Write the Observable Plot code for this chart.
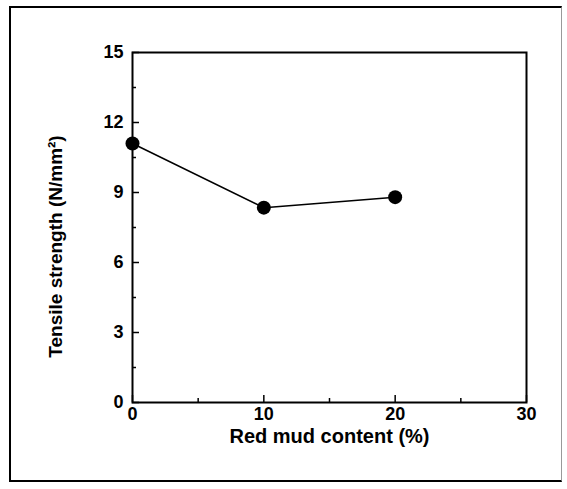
<!DOCTYPE html>
<html>
<head>
<meta charset="utf-8">
<script src="https://cdn.jsdelivr.net/npm/d3@7"></script>
<script src="https://cdn.jsdelivr.net/npm/@observablehq/plot@0.6"></script>
<style>
  html, body { margin: 0; padding: 0; background: #fff; }
  #wrap { position: relative; width: 567px; height: 489px; }
  #border { position: absolute; left: 9px; top: 6px; width: 553px; height: 476px;
            border-left: 2px solid #000; border-top: 2px solid #000; border-bottom: 2px solid #000;
            border-right: 1px solid #999; box-sizing: border-box; pointer-events: none; }
</style>
</head>
<body>
<div id="wrap"><div id="border"></div></div>
<script>
const content = [0, 10, 20];               // Red mud content (%)
const strength = [11.1, 8.35, 8.8];        // Tensile strength (N/mm²)
const xMajor = [0, 10, 20, 30];
const xMinor = [5, 15, 25];
const yMajor = [0, 3, 6, 9, 12, 15];
const yMinor = [1.5, 4.5, 7.5, 10.5, 13.5];
const xLabel = "Red mud content (%)";
const yLabel = "Tensile strength (N/mm²)";

const data = content.map((c, i) => ({x: c, y: strength[i]}));

const W = 567, H = 489, mL = 132, mR = 41, mT = 52, mB = 87;
const fw = W - mL - mR, fh = H - mT - mB;

const chart = Plot.plot({
  width: W, height: H,
  marginLeft: mL, marginRight: mR, marginTop: mT, marginBottom: mB,
  style: {fontFamily: "'Liberation Sans', Arial, sans-serif", fontWeight: "bold", background: "#fff", color: "#000"},
  x: {domain: [0, 30]},
  y: {domain: [0, 15]},
  marks: [
    Plot.frame({stroke: "#000", strokeWidth: 2}),
    Plot.tickX(xMajor, {x: d => d, insetTop: fh - 7, stroke: "#000", strokeWidth: 1.5}),
    Plot.tickX(xMinor, {x: d => d, insetTop: fh - 4, stroke: "#000", strokeWidth: 1.5}),
    Plot.tickY(yMajor, {y: d => d, insetRight: fw - 7, stroke: "#000", strokeWidth: 1.5}),
    Plot.tickY(yMinor, {y: d => d, insetRight: fw - 4, stroke: "#000", strokeWidth: 1.5}),
    Plot.axisX({ticks: xMajor, tickSize: 0, tickPadding: 5, fontSize: 18, label: null, tickFormat: d => String(d)}),
    Plot.axisY({ticks: yMajor, tickSize: 0, tickPadding: 9, fontSize: 18, label: null, tickFormat: d => String(d)}),
    Plot.line(data, {x: "x", y: "y", stroke: "#000", strokeWidth: 1.5}),
    Plot.dot(data, {x: "x", y: "y", r: 7, fill: "#000", stroke: "none"}),
    Plot.text([xLabel], {text: d => d, frameAnchor: "bottom", dy: 40, fontSize: 20, fontWeight: "bold", fill: "#000"}),
    Plot.text([yLabel], {text: d => d, frameAnchor: "left", textAnchor: "middle", dx: -77, dy: 19, rotate: -90, fontSize: 19, fontWeight: "bold", fill: "#000"})
  ]
});
document.getElementById("wrap").prepend(chart);
chart.style.position = "absolute";
chart.style.left = "0";
chart.style.top = "0";
</script>
</body>
</html>
